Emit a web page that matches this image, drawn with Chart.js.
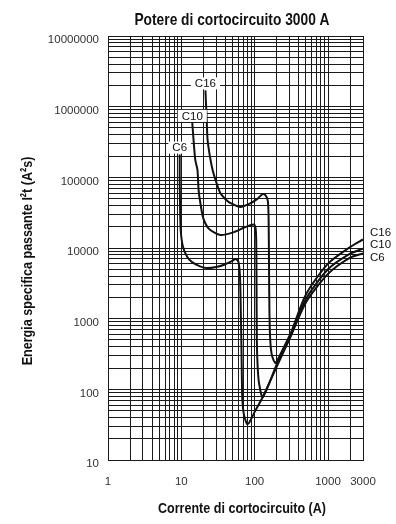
<!DOCTYPE html>
<html>
<head>
<meta charset="utf-8">
<script src="https://cdn.jsdelivr.net/npm/chart.js@4/dist/chart.umd.min.js"></script>
<style>
  body { margin: 0; background: #fff; }
  canvas { display: block; }
</style>
</head>
<body>
<canvas id="chart" width="396" height="524"></canvas>
<script>
// curve names as printed on the chart
const seriesNames = ['C16', 'C10', 'C6'];

// current (A) and let-through energy I2t (A2s)
const c16Current = [21.3, 22, 22.8, 24.5, 26.7, 30, 34, 40, 47, 64, 88, 110, 128, 140, 151, 155, 157, 159, 163, 170, 182, 194, 226, 311, 500, 1000, 2000, 3000];
const c16Energy = [1700000, 800000, 340000, 200000, 127000, 85000, 60000, 49000, 43000, 38000, 43000, 50000, 58000, 56000, 47000, 25000, 5000, 1200, 500, 320, 255, 236, 320, 630, 2200, 6000, 10300, 13200];

const c10Current = [14.1, 14.8, 15.5, 16.6, 17.2, 18.2, 20, 24, 34, 50, 75, 97, 103, 105, 106, 107, 110, 115, 129, 200, 300, 500, 1000, 2000, 3000];
const c10Energy = [590000, 300000, 176000, 127000, 66000, 43000, 26000, 18500, 15300, 16500, 19800, 21500, 19000, 12000, 3000, 500, 200, 120, 78, 225, 540, 1900, 5000, 8300, 9800];

const c6Current = [9.5, 9.5, 9.6, 9.8, 10.5, 12, 14, 18, 22, 30, 40, 50, 55, 60, 63, 64.5, 66, 67, 68, 71, 76, 80, 86, 100, 129, 200, 300, 500, 1000, 2000, 3000];
const c6Energy = [210000, 100000, 40000, 18000, 10500, 7500, 6300, 5500, 5200, 5400, 5900, 6600, 7000, 6400, 4000, 1500, 400, 130, 70, 45, 35, 32, 35, 48, 78, 210, 520, 1700, 4300, 7300, 8400];

// labelled ticks
const xTickLabels = [1, 10, 100, 1000, 3000];
const yTickLabels = [10, 100, 1000, 10000, 100000, 1000000, 10000000];

// grid lines at 1..9 of every decade
function logGrid(min, max) {
  const out = [];
  for (let d = 1; d <= max; d *= 10) {
    for (let m = 1; m <= 9; m++) {
      const v = m * d;
      if (v >= min && v <= max) out.push(v);
    }
  }
  return out;
}
const xGrid = logGrid(1, 3000);
const yGrid = logGrid(10, 10000000);

const toPoints = (xs, ys) => xs.map((x, i) => ({ x: x, y: ys[i] }));
const curves = [toPoints(c16Current, c16Energy), toPoints(c10Current, c10Energy), toPoints(c6Current, c6Energy)];

const boldFont = '"Liberation Sans", Arial, sans-serif';
const plainFont = '"Liberation Sans", Arial, sans-serif';

// no narrow face installed, so squeeze the bold titles sideways
function narrowText(ctx, text, x, y, rot) {
  ctx.save();
  ctx.translate(x, y);
  if (rot) ctx.rotate(rot);
  ctx.scale(0.81, 1);
  ctx.fillText(text, 0, 0);
  ctx.restore();
}

// titles and curve names drawn over the chart
const textPlugin = {
  id: 'texts',
  afterDraw(chart) {
    const { ctx, chartArea: area, scales } = chart;
    const xs = scales.x, ys = scales.y;
    ctx.save();
    ctx.fillStyle = '#111';
    ctx.textAlign = 'center';
    ctx.textBaseline = 'middle';

    ctx.font = 'bold 17px ' + boldFont;
    narrowText(ctx, 'Potere di cortocircuito 3000 A', area.left + 124, 20);

    ctx.font = 'bold 15.5px ' + boldFont;
    narrowText(ctx, 'Corrente di cortocircuito (A)', area.left + 134, 509);
    narrowText(ctx, 'Energia specifica passante I\u00b2t (A\u00b2s)', 28, area.top + 225, -Math.PI / 2);

    // names at the top of each curve, on a white patch
    ctx.font = '11.5px ' + plainFont;
    curves.forEach((pts, i) => {
      const px = xs.getPixelForValue(pts[0].x);
      const py = ys.getPixelForValue(pts[0].y) - 7;
      const w = ctx.measureText(seriesNames[i]).width + 8;
      ctx.fillStyle = '#fff';
      ctx.fillRect(px - w / 2, py - 6, w, 12);
      ctx.fillStyle = '#111';
      ctx.fillText(seriesNames[i], px, py + 0.5);
    });

    // names at the right end
    ctx.textAlign = 'left';
    const yMid = ys.getPixelForValue(c10Energy[c10Energy.length - 1]) - 4;
    const rightY = [yMid - 12, yMid, yMid + 13];
    seriesNames.forEach((name, i) => {
      ctx.fillText(name, area.right + 7, rightY[i]);
    });
    ctx.restore();
  }
};

new Chart(document.getElementById('chart'), {
  type: 'line',
  data: {
    datasets: curves.map((pts, i) => ({
      label: seriesNames[i],
      data: pts,
      borderColor: '#111',
      borderWidth: 2,
      pointRadius: 0,
      tension: 0.25,
      fill: false
    }))
  },
  options: {
    responsive: false,
    animation: false,
    devicePixelRatio: 1,
    layout: { padding: { top: 36, right: 33, bottom: 0, left: 0 } },
    plugins: {
      legend: { display: false },
      title: { display: false },
      tooltip: { enabled: false }
    },
    scales: {
      x: {
        type: 'logarithmic',
        min: 1,
        max: 3000,
        afterBuildTicks: axis => { axis.ticks = xGrid.map(v => ({ value: v })); },
        afterFit: axis => { axis.height = 64; },
        grid: { color: '#1a1a1a', lineWidth: 1, drawTicks: false },
        border: { color: '#1a1a1a', width: 1 },
        ticks: {
          autoSkip: false,
          maxRotation: 0,
          padding: 15,
          color: '#333',
          font: { family: plainFont, size: 11.5 },
          callback: v => xTickLabels.includes(v) ? String(v) : ''
        }
      },
      y: {
        type: 'logarithmic',
        min: 10,
        max: 10000000,
        afterBuildTicks: axis => { axis.ticks = yGrid.map(v => ({ value: v })); },
        afterFit: axis => { axis.width = 108; },
        grid: { color: '#1a1a1a', lineWidth: 1, drawTicks: false },
        border: { color: '#1a1a1a', width: 1 },
        ticks: {
          autoSkip: false,
          padding: 9,
          labelOffset: 4,
          color: '#333',
          font: { family: plainFont, size: 11.5 },
          callback: v => yTickLabels.includes(v) ? String(v) : ''
        }
      }
    }
  },
  plugins: [textPlugin]
});
</script>
</body>
</html>
